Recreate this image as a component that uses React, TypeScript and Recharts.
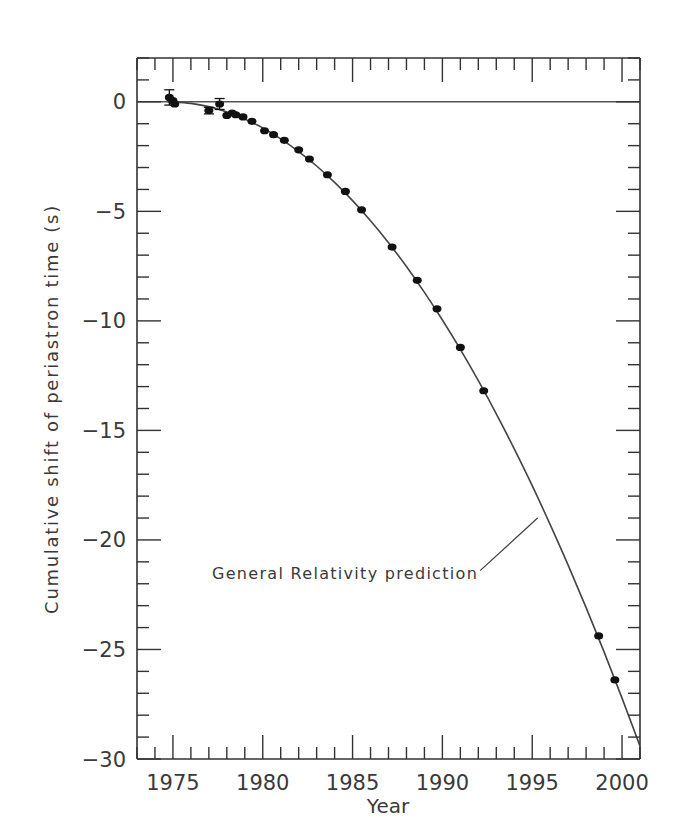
import React from 'react';
import {
  ComposedChart,
  Line,
  Scatter,
  XAxis,
  YAxis,
  ReferenceLine,
  ErrorBar,
} from 'recharts';

const obsYears = [
  1974.8, 1975.0, 1975.1, 1977.0, 1977.6, 1978.0, 1978.3, 1978.5, 1978.9, 1979.4,
  1980.1, 1980.6, 1981.2, 1982.0, 1982.6, 1983.6, 1984.6, 1985.5, 1987.2, 1988.6,
  1989.7, 1991.0, 1992.3, 1998.7, 1999.6,
];
const obsShift = [
  0.2, 0.05, -0.1, -0.4, -0.1, -0.62, -0.51, -0.59, -0.69, -0.89,
  -1.32, -1.5, -1.76, -2.19, -2.61, -3.33, -4.09, -4.93, -6.63, -8.15,
  -9.45, -11.21, -13.19, -24.38, -26.39,
];
const obsError = [
  0.35, 0, 0, 0.15, 0.25, 0, 0, 0, 0, 0,
  0, 0, 0, 0, 0, 0, 0, 0, 0, 0,
  0, 0, 0, 0, 0,
];

// general relativity prediction curve
const grYears = [
  1974.7, 1975, 1976, 1977, 1978, 1979, 1980, 1981, 1982, 1983, 1984, 1985, 1986,
  1987, 1988, 1989, 1990, 1991, 1992, 1993, 1994, 1995, 1996, 1997, 1998, 1999,
  2000, 2001,
];
const grShift = [
  0, -0.01, -0.07, -0.22, -0.46, -0.79, -1.19, -1.69, -2.27, -2.93, -3.68, -4.51,
  -5.43, -6.43, -7.52, -8.7, -9.96, -11.3, -12.73, -14.24, -15.84, -17.52, -19.3,
  -21.15, -23.09, -25.11, -27.22, -29.41,
];

const xTicks = [
  1973, 1974, 1975, 1976, 1977, 1978, 1979, 1980, 1981, 1982, 1983, 1984, 1985,
  1986, 1987, 1988, 1989, 1990, 1991, 1992, 1993, 1994, 1995, 1996, 1997, 1998,
  1999, 2000, 2001,
];
const yTicks = [
  -30, -29, -28, -27, -26, -25, -24, -23, -22, -21, -20, -19, -18, -17, -16, -15,
  -14, -13, -12, -11, -10, -9, -8, -7, -6, -5, -4, -3, -2, -1, 0, 1, 2,
];

const obsData = obsYears.map((x, i) => ({ x, y: obsShift[i], err: obsError[i] }));
const grData = grYears.map((x, i) => ({ x, y: grShift[i] }));

const AXIS = '#333';
const TEXT = '#3a3a3a';
const FONT = '"DejaVu Sans", sans-serif';
const MAJOR = 24;
const MINOR = 12;

const fmt = (v: number) => (v < 0 ? '\u2212' + Math.abs(v) : String(v));

function BottomTick({ x, y, payload }: any) {
  const major = payload.value % 5 === 0;
  return (
    <g>
      <line x1={x} x2={x} y1={y} y2={y - (major ? MAJOR : MINOR)} stroke={AXIS} strokeWidth={1.4} />
      {major && (
        <text x={x} y={y + 31} textAnchor="middle" fontSize={21} fontFamily={FONT} fill={TEXT}>
          {payload.value}
        </text>
      )}
    </g>
  );
}

function TopTick({ x, y, payload }: any) {
  const major = payload.value % 5 === 0;
  return <line x1={x} x2={x} y1={y} y2={y + (major ? MAJOR : MINOR)} stroke={AXIS} strokeWidth={1.4} />;
}

function LeftTick({ x, y, payload }: any) {
  const major = payload.value % 5 === 0;
  return (
    <g>
      <line x1={x} x2={x + (major ? MAJOR : MINOR)} y1={y} y2={y} stroke={AXIS} strokeWidth={1.4} />
      {major && (
        <text x={x - 11} y={y} dy="0.36em" textAnchor="end" fontSize={21} fontFamily={FONT} fill={TEXT}>
          {fmt(payload.value)}
        </text>
      )}
    </g>
  );
}

function RightTick({ x, y, payload }: any) {
  const major = payload.value % 5 === 0;
  return <line x1={x} x2={x - (major ? MAJOR : MINOR)} y1={y} y2={y} stroke={AXIS} strokeWidth={1.4} />;
}

const Dot = (props: any) => <ellipse cx={props.cx} cy={props.cy} rx={4.5} ry={3.6} fill="#111" />;

export default function App() {
  return (
    <div style={{ position: 'absolute', left: 0, top: 0, background: '#fff' }}>
      <ComposedChart
        width={675}
        height={818}
        margin={{ top: 48, right: 25, bottom: 29, left: 77 }}
      >
        <XAxis
          dataKey="x"
          type="number"
          domain={[1973, 2001]}
          ticks={xTicks}
          interval={0}
          tickSize={0}
          tickMargin={0}
          tickLine={false}
          tick={BottomTick}
          height={30}
          axisLine={{ stroke: AXIS, strokeWidth: 1.6 }}
          allowDataOverflow
        />
        <XAxis
          xAxisId="top"
          orientation="top"
          dataKey="x"
          type="number"
          domain={[1973, 2001]}
          ticks={xTicks}
          interval={0}
          tickSize={0}
          tickMargin={0}
          tickLine={false}
          tick={TopTick}
          height={10}
          axisLine={{ stroke: AXIS, strokeWidth: 1.6 }}
          allowDataOverflow
        />
        <YAxis
          dataKey="y"
          type="number"
          domain={[-30, 2]}
          ticks={yTicks}
          interval={0}
          tickSize={0}
          tickMargin={0}
          tickLine={false}
          tick={LeftTick}
          width={60}
          axisLine={{ stroke: AXIS, strokeWidth: 1.6 }}
          allowDataOverflow
        />
        <YAxis
          yAxisId="right"
          orientation="right"
          dataKey="y"
          type="number"
          domain={[-30, 2]}
          ticks={yTicks}
          interval={0}
          tickSize={0}
          tickMargin={0}
          tickLine={false}
          tick={RightTick}
          width={10}
          axisLine={{ stroke: AXIS, strokeWidth: 1.6 }}
          allowDataOverflow
        />
        <ReferenceLine y={0} stroke="#555" strokeWidth={1.6} />
        <ReferenceLine
          segment={[
            { x: 1992.1, y: -21.4 },
            { x: 1995.3, y: -19.0 },
          ]}
          stroke="#444"
          strokeWidth={1.3}
        />
        <Line
          data={grData}
          dataKey="y"
          type="monotone"
          dot={false}
          stroke="#444"
          strokeWidth={1.6}
          isAnimationActive={false}
        />
        <Scatter data={obsData} dataKey="y" shape={Dot} isAnimationActive={false}>
          <ErrorBar dataKey="err" direction="y" width={5} stroke="#111" strokeWidth={1.3} />
        </Scatter>
        <text
          x={212}
          y={579}
          fontSize={16}
          letterSpacing={1.3}
          fontFamily={FONT}
          fill={TEXT}
        >
          General Relativity prediction
        </text>
        <text
          x={51}
          y={409}
          transform="rotate(-90, 51, 409)"
          textAnchor="middle"
          dominantBaseline="central"
          fontSize={18}
          letterSpacing={1.7}
          fontFamily={FONT}
          fill={TEXT}
        >
          Cumulative shift of periastron time (s)
        </text>
        <text x={388} y={813} textAnchor="middle" fontSize={20} fontFamily={FONT} fill={TEXT}>
          Year
        </text>
      </ComposedChart>
    </div>
  );
}
